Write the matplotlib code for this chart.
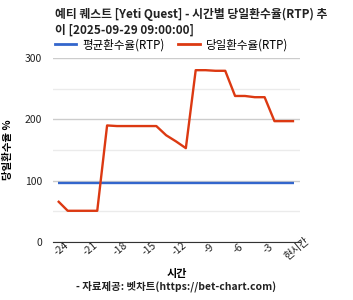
import matplotlib
matplotlib.use("Agg")
import matplotlib.pyplot as plt
from matplotlib.lines import Line2D

plt.rcParams['font.family'] = ['Noto Sans CJK KR', 'DejaVu Sans']

hours = list(range(-24, 1))
daily_rtp = [67, 51, 51, 51, 51, 190, 189, 189, 189, 189, 189, 174, 164, 153,
             280, 280, 279, 279, 238, 238, 236, 236, 197, 197, 197]
avg_rtp = [96] * len(hours)
tick_pos = [-24, -21, -18, -15, -12, -9, -6, -3, 0]
tick_labels = ['-24', '-21', '-18', '-15', '-12', '-9', '-6', '-3', '현시간']

blue = '#3366cc'
red = '#dc3912'

fig = plt.figure(figsize=(3.53, 3.0), dpi=100)
ax = fig.add_axes([0.150, 0.193, 0.700, 0.614])

ax.plot(hours, avg_rtp, color=blue, lw=1.7, solid_capstyle='butt')
ax.plot(hours, daily_rtp, color=red, lw=1.7, solid_capstyle='butt')

ax.set_xlim(-24.5, 0.6)
ax.set_ylim(0, 300)
ax.set_yticks([0, 100, 200, 300])
ax.set_yticks([50, 150, 250], minor=True)
ax.grid(axis='y', which='major', color='#cccccc', lw=1)
ax.grid(axis='y', which='minor', color='#ebebeb', lw=1)
ax.set_axisbelow(True)
for s in ['left', 'right', 'top']:
    ax.spines[s].set_visible(False)
ax.spines['bottom'].set_color('#333333')
ax.tick_params(axis='y', which='both', length=0, labelsize=7.5, colors='#222222', pad=8)
ax.tick_params(axis='x', length=0, labelsize=7.5, colors='#222222', pad=2)
ax.set_xticks(tick_pos)
ax.set_xticklabels(tick_labels, rotation=40, ha='right', rotation_mode='anchor')
for lbl in ax.get_xticklabels():
    lbl.set_ha('center')

ax.set_ylabel('당일환수율 %', fontsize=7.5, fontweight='bold', labelpad=8)
ax.set_xlabel('시간', fontsize=8, fontweight='bold', labelpad=4)

fig.text(0.155, 0.975, '예티 퀘스트 [Yeti Quest] - 시간별 당일환수율(RTP) 추\n이 [2025-09-29 09:00:00]',
         fontsize=8.5, fontweight='bold', va='top', ha='left', linespacing=1.3, color='#222222')

handles = [Line2D([], [], color=blue, lw=2), Line2D([], [], color=red, lw=2)]
fig.legend(handles, ['평균환수율(RTP)', '당일환수율(RTP)'], loc='center left',
           bbox_to_anchor=(0.125, 0.85), ncol=2, frameon=False,
           prop={'size': 8.3, 'weight': 'medium'},
           handlelength=1.9, columnspacing=1.2, handletextpad=0.5)

fig.text(0.5, 0.025, '- 자료제공: 벳차트(https://bet-chart.com)', fontsize=7.5,
         fontweight='bold', ha='center', va='bottom', color='#222222')

fig.savefig('out.png', dpi=100)
